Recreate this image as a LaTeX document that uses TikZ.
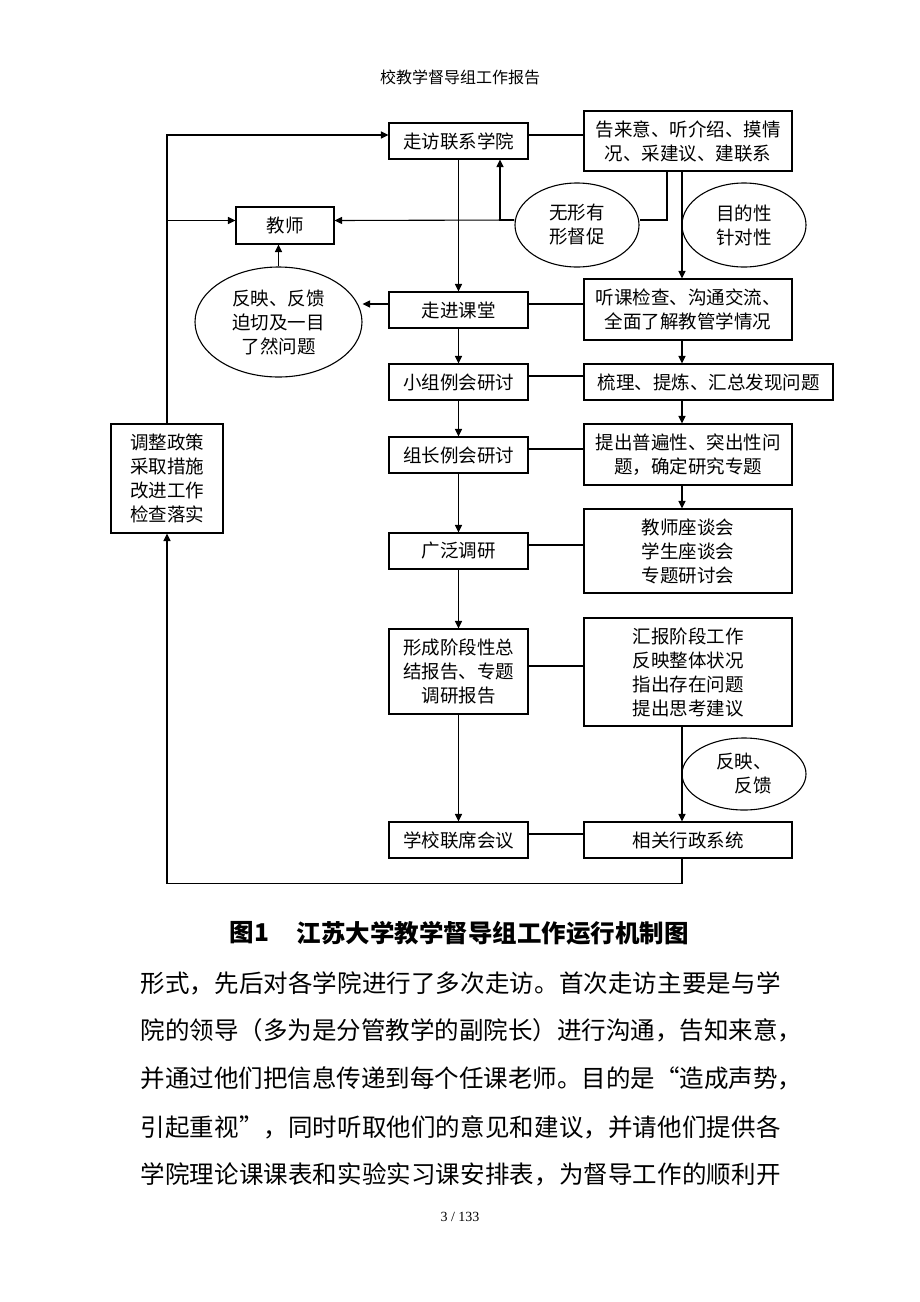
\documentclass[tikz,border=0pt]{standalone}
\usepackage{fontspec}
\setmainfont{Liberation Serif}
\newfontfamily\cjk{Noto Sans CJK SC}
\usetikzlibrary{shapes.geometric,arrows.meta,calc}
\newcommand\dtext{\cjk\fontsize{18.5}{24}\selectfont}
\newcommand\btext{\cjk\fontsize{24.5}{30}\selectfont}
\def\spreadline#1{\makebox[640pt][s]{\spreadA#1\relax}}
\def\spreadA#1{#1\spreadB}
\def\spreadB#1{\ifx#1\relax\else\hfil#1\expandafter\spreadB\fi}
\begin{document}
\begin{tikzpicture}[x=1pt,y=-1pt,line width=1.1pt,
  box/.style={draw,rectangle,inner sep=0pt,align=center,font=\dtext},
  ell/.style={draw,ellipse,inner sep=0pt,align=center,font=\dtext},
  arr/.style={-{Triangle[length=7.5pt,width=7pt]}}]
\useasboundingbox[fill=white] (0,0) rectangle (920,1302);

% header
\node[font=\cjk\fontsize{16}{18}\selectfont] (hd) at (460,77) {校教学督导组工作报告};

% boxes
\node[box,minimum width=139pt,minimum height=36pt] (A) at (458.5,141) {走访联系学院};
\node[box,minimum width=208pt,minimum height=60pt] (B) at (688,141) {告来意、听介绍、摸情\\况、采建议、建联系};
\node[box,minimum width=98pt,minimum height=37pt] (T) at (285,225.5) {教师};
\node[ell,minimum width=124pt,minimum height=84pt] (E1) at (577,225) {无形有\\形督促};
\node[ell,minimum width=124pt,minimum height=84pt] (E2) at (744,225) {目的性\\针对性};
\node[box,minimum width=139pt,minimum height=36pt] (C) at (458.5,310) {走进课堂};
\node[box,minimum width=208pt,minimum height=61pt] (D) at (688,309.5) {听课检查、沟通交流、\\全面了解教管学情况};
\node[ell,minimum width=167pt,minimum height=110pt] (E3) at (278.5,322) {反映、反馈\\迫切及一目\\了然问题};
\node[box,minimum width=139pt,minimum height=36pt] (G) at (458.5,382) {小组例会研讨};
\node[box,minimum width=249pt,minimum height=36pt] (H) at (708.5,382) {梳理、提炼、汇总发现问题};
\node[box,minimum width=139pt,minimum height=36pt] (K) at (458.5,455) {组长例会研讨};
\node[box,minimum width=208pt,minimum height=61pt] (P) at (688,454.5) {提出普遍性、突出性问\\题，确定研究专题};
\node[box,minimum width=112pt,minimum height=109pt] (Z) at (167,478.5) {调整政策\\采取措施\\改进工作\\检查落实};
\node[box,minimum width=139pt,minimum height=36pt] (W) at (458.5,551) {广泛调研};
\node[box,minimum width=208pt,minimum height=84pt] (S) at (688,551) {教师座谈会\\学生座谈会\\专题研讨会};
\node[box,minimum width=139pt,minimum height=85pt] (F) at (458.5,671.5) {形成阶段性总\\结报告、专题\\调研报告};
\node[box,minimum width=208pt,minimum height=108pt] (R) at (688,672) {汇报阶段工作\\反映整体状况\\指出存在问题\\提出思考建议};
\node[ell,minimum width=124pt,minimum height=72pt,align=right] (E4) at (744,774) {反映、\\反馈};
\node[box,minimum width=139pt,minimum height=36pt] (L) at (458.5,840) {学校联席会议};
\node[box,minimum width=208pt,minimum height=36pt] (X) at (688,840) {相关行政系统};

\coordinate (rx) at ($(B.south)+(-6,0)$);

% left feedback loop
\draw[arr] ($(X.south)+(-6,0)$) -- ++(0,25) -| (Z.south);
\draw[arr] (Z.north) |- ($(A.west)+(0,-6)$);
\draw[arr] ($(Z.north |- T.west)+(0,-5)$) -- ($(T.west)+(0,-5)$);

% top area
\draw ($(A.east)+(0,-6)$) coordinate (t0) -- (t0 -| B.west);
\draw[arr] ($(E1.west)+(0,-5)$) -- ($(T.east)+(0,-5)$);
\draw[arr] ($(E1.west)+(0,-5)$) -| ($(A.south)+(41.5,0)$);
\draw ($(B.south)+(-21,0)$) |- ($(E1.east)+(0,-5)$);
\draw[arr] (rx |- B.south) -- (rx |- D.north);

% centre column
\draw[arr] (A.south) -- (C.north);
\draw[arr] (C.south) -- (G.north);
\draw[arr] (G.south) -- (K.north);
\draw[arr] (K.south) -- (W.north);
\draw[arr] (W.south) -- (F.north);
\draw[arr] (F.south) -- (L.north);

% feedback ellipse
\draw[arr] ($(C.west)+(0,-6)$) coordinate (c3) -- (c3 -| E3.east);
\draw[arr] (E3.north) -- (E3.north |- T.south);

% right column
\draw[arr] (rx |- D.south) -- (rx |- H.north);
\draw[arr] (rx |- H.south) -- (rx |- P.north);
\draw[arr] (rx |- P.south) -- (rx |- S.north);
\draw[arr] (rx |- R.south) -- (rx |- X.north);

% horizontal links
\draw ($(C.east)+(0,-6)$) coordinate (t1) -- (t1 -| D.west);
\draw ($(G.east)+(0,-6)$) coordinate (t2) -- (t2 -| H.west);
\draw ($(K.east)+(0,-6)$) coordinate (t3) -- (t3 -| P.west);
\draw ($(W.east)+(0,-6)$) coordinate (t4) -- (t4 -| S.west);
\draw ($(F.east)+(0,-5.5)$) coordinate (t5) -- (t5 -| R.west);
\draw ($(L.east)+(0,-6)$) coordinate (t6) -- (t6 -| X.west);

% caption
\node[anchor=west,inner sep=0pt,font=\cjk\bfseries\fontsize{24.5}{30}\selectfont] (cap1) at (229,933) {图1};
\node[anchor=west,inner sep=0pt,font=\cjk\bfseries\fontsize{24.5}{30}\selectfont] (cap2) at (296,933) {江苏大学教学督导组工作运行机制图};

% body text
\node[anchor=west,inner sep=0pt,font=\btext] (l1) at (140,983) {\spreadline{形式，先后对各学院进行了多次走访。首次走访主要是与学}};
\node[anchor=west,inner sep=0pt,font=\btext] (l2) at (140,1030) {\spreadline{院的领导（多为是分管教学的副院长）进行沟通，告知来意，}};
\node[anchor=west,inner sep=0pt,font=\btext] (l3) at (140,1078) {\spreadline{并通过他们把信息传递到每个任课老师。目的是“造成声势，}};
\node[anchor=west,inner sep=0pt,font=\btext] (l4) at (140,1127) {\spreadline{引起重视”，同时听取他们的意见和建议，并请他们提供各}};
\node[anchor=west,inner sep=0pt,font=\btext] (l5) at (140,1174) {\spreadline{学院理论课课表和实验实习课安排表，为督导工作的顺利开}};

% page number
\node[font=\fontsize{14}{16}\selectfont] (pg) at (460,1217) {3 / 133};
\end{tikzpicture}
\end{document}
